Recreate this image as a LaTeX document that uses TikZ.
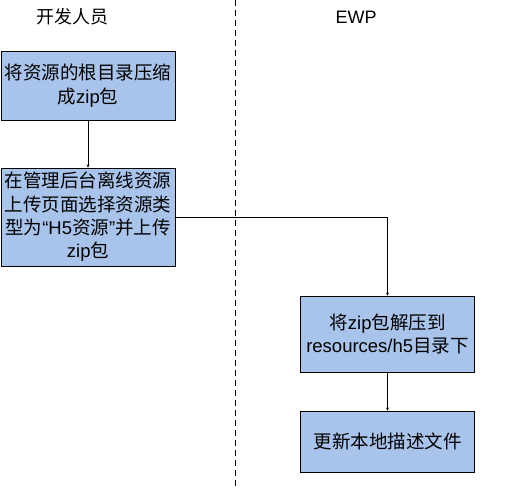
\documentclass[tikz,border=0pt]{standalone}
\usepackage{fontspec}
\setmainfont{Liberation Sans}
\newfontfamily\zh{Noto Sans CJK SC}
\usepackage{tikz}
\definecolor{bleuboite}{HTML}{A9C4EB}

\begin{document}
\begin{tikzpicture}[x=1pt, y=-1pt]
\tikzset{boite/.style={draw, fill=bleuboite, line width=0.8pt, minimum width=174pt, text width=172pt, align=center, inner sep=0pt, font=\fontsize{18.5}{23.3}\selectfont},
titre/.style={font=\fontsize{18}{22}\selectfont}}
\useasboundingbox (0, 0) rectangle (517, 489);
\node[titre] (T1) at (72, 17) {\zh 开发人员};
\node[titre] (T2) at (356, 17) {EWP};
\coordinate (haut) at (235, 0);
\coordinate (bas) at (235, 489);
\draw[dash pattern=on 6pt off 4pt] (haut) -- (bas);
\node[boite, minimum height=69pt] (B1) at (88, 85.5) {{\zh 将资源的根目录压缩}\\{\zh 成}zip{\zh 包}};
\node[boite, minimum height=98pt] (B2) at (88, 217) {{\zh 在管理后台离线资源}\\{\zh 上传页面选择资源类}\\{\zh 型为}“H5{\zh 资源}”{\zh 并上传}\\zip{\zh 包}};
\node[boite, minimum height=76pt] (B3) at (387.5, 334) {{\zh 将}zip{\zh 包解压到}\\resources/h5{\zh 目录下}};
\node[boite, minimum height=61pt] (B4) at (387.5, 441.5) {\zh 更新本地描述文件};
\draw[->, >=stealth] (B1) -- (B2);
\draw[->, >=stealth] (B2.east) -| (B3.north);
\draw[->, >=stealth] (B3) -- (B4);
\end{tikzpicture}
\end{document}
